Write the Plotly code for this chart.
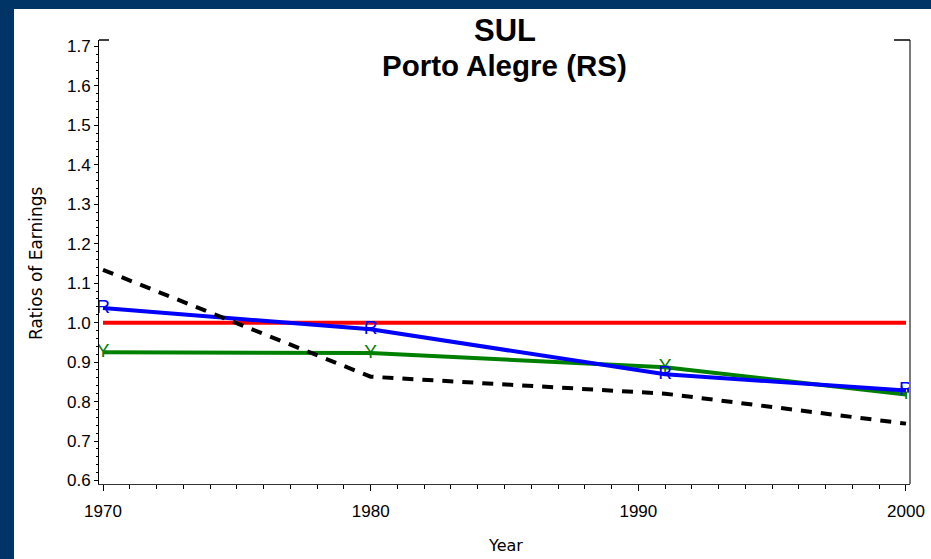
import plotly.graph_objects as go

years = [1970, 1980, 1991, 2000]
ref_line = [1.0, 1.0, 1.0, 1.0]
blue_r = [1.037, 0.983, 0.869, 0.828]
green_y = [0.925, 0.923, 0.887, 0.818]
black_dash = [1.134, 0.863, 0.820, 0.744]

y_ticks = [0.6, 0.7, 0.8, 0.9, 1.0, 1.1, 1.2, 1.3, 1.4, 1.5, 1.6, 1.7]
x_ticks = [1970, 1980, 1990, 2000]

title_main = "SUL"
title_sub = "Porto Alegre (RS)"
x_title = "Year"
y_title = "Ratios of Earnings"

FONT = "Liberation Sans, Arial, sans-serif"
WIDE = "DejaVu Sans, sans-serif"
W, H = 931, 559
L, R, T, B = 99, 21, 40, 75
pw, ph = W - L - R, H - T - B

def px(x):
    return (x - L) / pw

def py(y):
    return (H - B - y) / ph

fig = go.Figure()
fig.add_trace(go.Scatter(x=years, y=ref_line, mode="lines",
                         line=dict(color="#FF0000", width=4), hoverinfo="skip"))
fig.add_trace(go.Scatter(x=years, y=green_y, mode="lines+text", text=["Y"] * len(years),
                         textposition="middle center",
                         textfont=dict(color="#008000", size=19, family=FONT),
                         line=dict(color="#008000", width=4)))
fig.add_trace(go.Scatter(x=years, y=blue_r, mode="lines+text", text=["R"] * len(years),
                         textposition="middle center",
                         textfont=dict(color="#0000FF", size=19, family=FONT),
                         line=dict(color="#0000FF", width=4)))
fig.add_trace(go.Scatter(x=years, y=black_dash, mode="lines",
                         line=dict(color="#000000", width=4, dash="11px,9px")))

fig.update_layout(
    width=W, height=H,
    margin=dict(l=L, r=R, t=T, b=B, pad=0, autoexpand=False),
    paper_bgcolor="white", plot_bgcolor="white",
    showlegend=False,
    font=dict(family=FONT, color="black", size=16),
    xaxis=dict(range=[1969.85, 2000.15], tickvals=x_ticks, ticktext=[str(v) for v in x_ticks],
               automargin=False,
               showgrid=False, zeroline=False, showline=True, linecolor="#333333", linewidth=1,
               ticks="outside", ticklen=6, tickcolor="black", tickwidth=1,
               minor=dict(dtick=1, ticks="outside", ticklen=4, tickcolor="black", showgrid=False),
               tickfont=dict(size=17, family=FONT), ticklabelstandoff=6),
    yaxis=dict(range=[0.591, 1.7165], tickvals=y_ticks, ticktext=[f"{v:.1f}" for v in y_ticks],
               automargin=False,
               showgrid=False, zeroline=False, showline=True, linecolor="black", linewidth=1,
               ticks="outside", ticklen=4, tickcolor="black", tickwidth=1,
               minor=dict(dtick=0.02, ticks="outside", ticklen=2, tickcolor="black", showgrid=False),
               tickfont=dict(size=17, family=FONT)),
    shapes=[
        dict(type="rect", xref="paper", yref="paper", x0=px(-5), x1=px(W + 5), y0=py(-5), y1=py(9),
             fillcolor="#003366", line=dict(width=0), layer="above"),
        dict(type="rect", xref="paper", yref="paper", x0=px(-5), x1=px(14), y0=py(-5), y1=py(H + 5),
             fillcolor="#003366", line=dict(width=0), layer="above"),
        dict(type="line", xref="paper", yref="paper", x0=1, x1=1, y0=0, y1=1,
             line=dict(color="#7a7a7a", width=2)),
        dict(type="line", xref="paper", yref="paper", x0=0, x1=px(109), y0=1, y1=1,
             line=dict(color="black", width=1.5)),
        dict(type="line", xref="paper", yref="paper", x0=px(894), x1=1, y0=1, y1=1,
             line=dict(color="black", width=1.5)),
    ],
    annotations=[
        dict(text=f"<b>{title_main}</b>", xref="paper", yref="paper", x=0.5, y=py(30),
             showarrow=False, font=dict(size=31, family=FONT), xanchor="center", yanchor="middle"),
        dict(text=f"<b>{title_sub}</b>", xref="paper", yref="paper", x=0.5, y=py(65),
             showarrow=False, font=dict(size=29.5, family=FONT), xanchor="center", yanchor="middle"),
        dict(text=x_title, xref="paper", yref="paper", x=px(505), y=py(545),
             showarrow=False, font=dict(size=16, family=WIDE), xanchor="center", yanchor="middle"),
        dict(text=y_title, xref="paper", yref="paper", x=px(36), y=py(263), textangle=-90,
             showarrow=False, font=dict(size=17, family=WIDE), xanchor="center", yanchor="middle"),
    ],
)

fig.write_html("out.html", config={"displayModeBar": False},
               post_script="document.body.style.margin='0';document.body.style.overflow='hidden';")
